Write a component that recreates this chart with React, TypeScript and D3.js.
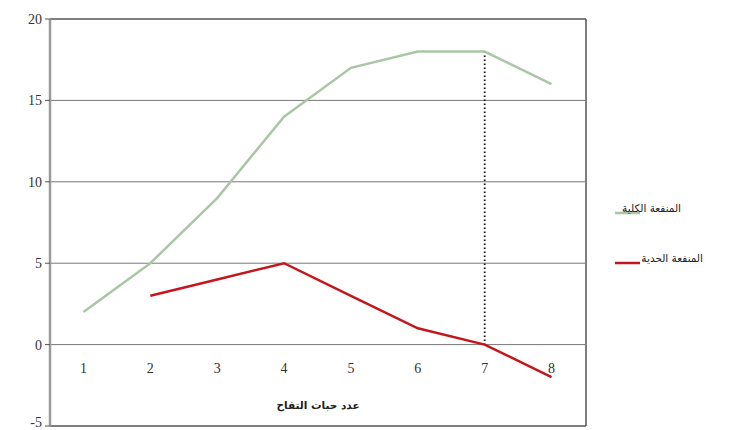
import React from "react";
import * as d3 from "d3";

const categories = ["1", "2", "3", "4", "5", "6", "7", "8"];
const totalUtility: (number | null)[] = [2, 5, 9, 14, 17, 18, 18, 16];
const marginalUtility: (number | null)[] = [null, 3, 4, 5, 3, 1, 0, -2];
const yTicks = [-5, 0, 5, 10, 15, 20];
const seriesNames = ["المنفعة الكلية", "المنفعة الحدية"];
const xTitle = "عدد حبات التفاح";
const markerCategory = "7";

export default function App() {
  const W = 743, H = 430;
  const left = 50, right = 585, top = 19, bottom = 426;
  const x = d3.scaleBand<string>().domain(categories).range([left, right]);
  const y = d3.scaleLinear().domain([-5, 20]).range([bottom, top]);
  const cx = (c: string) => (x(c) as number) + x.bandwidth() / 2;

  const line = d3
    .line<{ c: string; v: number | null }>()
    .defined((d) => d.v !== null)
    .x((d) => cx(d.c))
    .y((d) => y(d.v as number));

  const totalData = categories.map((c, i) => ({ c, v: totalUtility[i] }));
  const margData = categories.map((c, i) => ({ c, v: marginalUtility[i] }));
  const mi = categories.indexOf(markerCategory);

  const serif = "'Liberation Serif', 'Times New Roman', serif";
  const arab = "'DejaVu Sans', sans-serif";

  return (
    <svg width={W} height={H} style={{ position: "absolute", left: 0, top: 0, background: "#fff" }}>
      {yTicks.filter((t) => t > -5 && t < 20).map((t) => (
        <line key={t} x1={left} x2={right} y1={y(t)} y2={y(t)} stroke="#777" strokeWidth={1} />
      ))}
      <line x1={left} x2={right + 1} y1={y(20)} y2={y(20)} stroke="#555" strokeWidth={1.5} />
      <line x1={left} x2={right + 1} y1={y(-5)} y2={y(-5)} stroke="#555" strokeWidth={1.5} />
      <line x1={right + 1} x2={right + 1} y1={y(20)} y2={y(-5)} stroke="#555" strokeWidth={1.5} />
      <line x1={left} x2={left} y1={y(20)} y2={y(-5)} stroke="#9a9a9a" strokeWidth={2.5} />
      {yTicks.map((t) => (
        <g key={t}>
          <line x1={left - 5} x2={left} y1={y(t)} y2={y(t)} stroke="#555" strokeWidth={1} />
          <text
            x={left - 8}
            y={t === -5 ? y(t) - 4 : y(t)}
            dy="0.35em"
            textAnchor="end"
            fontFamily={serif}
            fontSize={14}
            fill="#333"
          >
            {t}
          </text>
        </g>
      ))}
      {categories.map((c) => (
        <text key={c} x={cx(c)} y={y(0) + 28} textAnchor="middle" fontFamily={serif} fontSize={14} fill="#333">
          {c}
        </text>
      ))}
      <text x={318} y={409} textAnchor="middle" fontFamily={arab} fontSize={10.5} fontWeight="bold" fill="#222">
        {xTitle}
      </text>
      <line
        x1={cx(markerCategory)}
        x2={cx(markerCategory)}
        y1={y(totalUtility[mi] as number)}
        y2={y(0)}
        stroke="#111"
        strokeWidth={1.8}
        strokeDasharray="1.5 2.5"
      />
      <path d={line(totalData) || ""} fill="none" stroke="#a9c7a5" strokeWidth={2.5} />
      <path d={line(margData) || ""} fill="none" stroke="#c4161c" strokeWidth={2.5} />
      <line x1={615} x2={640} y1={213} y2={213} stroke="#a9c7a5" strokeWidth={2.5} />
      <text x={681} y={212} textAnchor="end" fontFamily={arab} fontSize={10.5} fill="#222">
        {seriesNames[0]}
      </text>
      <line x1={615} x2={640} y1={263} y2={263} stroke="#c4161c" strokeWidth={2.5} />
      <text x={703} y={262} textAnchor="end" fontFamily={arab} fontSize={10.5} fill="#222">
        {seriesNames[1]}
      </text>
    </svg>
  );
}
